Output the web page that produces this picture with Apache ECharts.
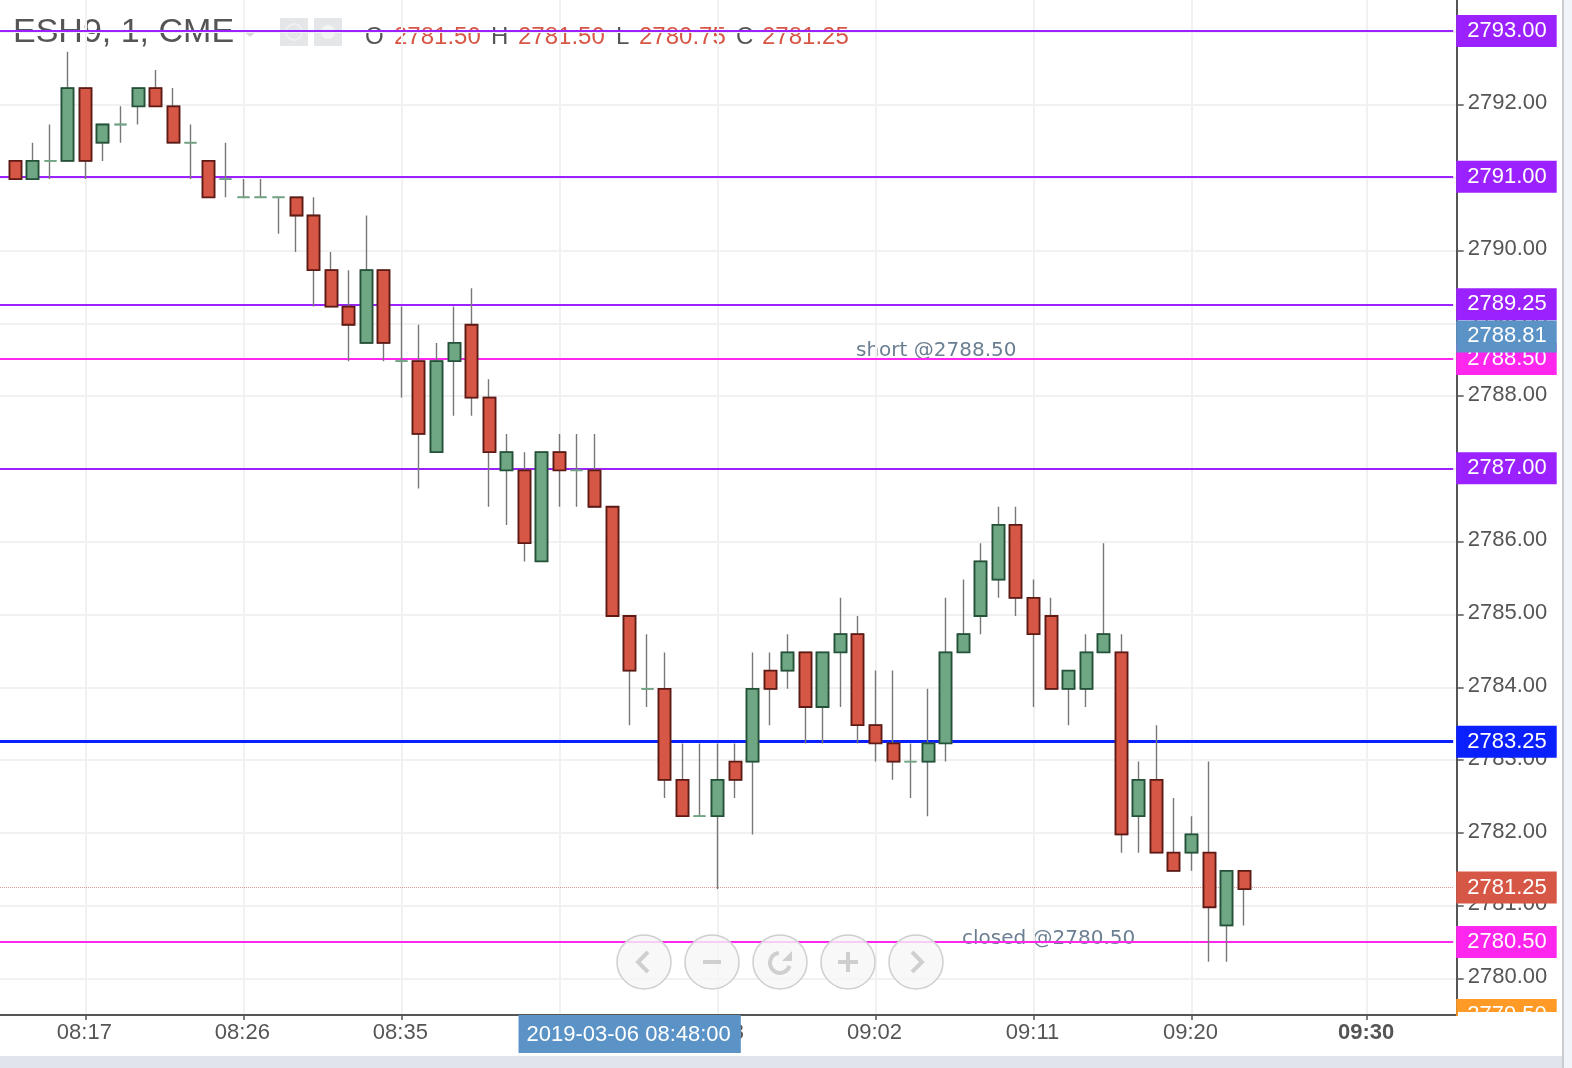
<!DOCTYPE html>
<html><head><meta charset="utf-8">
<style>html,body{margin:0;padding:0;background:#fff}#c{width:1572px;height:1068px}</style>
<script src="https://cdn.jsdelivr.net/npm/echarts@6/dist/echarts.min.js"></script>
</head><body><div id="c"></div>
<script>
// minute-of-day of the first bar: 08:13
const startMinute = 493;
const opens = [2791.25,2791,2791.25,2791.25,2792.25,2791.5,2791.75,2792,2792.25,2792,
 2791.5,2791.25,2791,2790.75,2790.75,2790.75,2790.75,2790.5,2789.75,2789.25,
 2788.75,2789.75,2788.5,2788.5,2787.25,2788.5,2789,2788,2787,2787,
 2785.75,2787.25,2787,2787,2786.5,2785,2784,2784,2782.75,2782.25,
 2782.25,2783,2783,2784.25,2784.25,2784.5,2783.75,2784.5,2784.75,2783.5,
 2783.25,2783,2783,2783.25,2784.5,2785,2785.5,2786.25,2785.25,2785,
 2784,2784,2784.5,2784.5,2782.25,2782.75,2781.75,2781.75,2781.75,2780.75,2781.5];
const closes = [2791,2791.25,2791.25,2792.25,2791.25,2791.75,2791.75,2792.25,2792,2791.5,
 2791.5,2790.75,2791,2790.75,2790.75,2790.75,2790.5,2789.75,2789.25,2789,
 2789.75,2788.75,2788.5,2787.5,2788.5,2788.75,2788,2787.25,2787.25,2786,
 2787.25,2787,2787,2786.5,2785,2784.25,2784,2782.75,2782.25,2782.25,
 2782.75,2782.75,2784,2784,2784.5,2783.75,2784.5,2784.75,2783.5,2783.25,
 2783,2783,2783.25,2784.5,2784.75,2785.75,2786.25,2785.25,2784.75,2784,
 2784.25,2784.5,2784.75,2782,2782.75,2781.75,2781.5,2782,2781,2781.5,2781.25];
const lows = [2791,2791,2791,2791.25,2791,2791.25,2791.5,2791.75,2792,2791.5,
 2791,2790.75,2790.75,2790.75,2790.75,2790.25,2790,2789.25,2789.25,2788.5,
 2788.75,2788.5,2788,2786.75,2787.25,2787.75,2787.75,2786.5,2786.25,2785.75,
 2785.75,2786.5,2786.5,2786.5,2785,2783.5,2783.75,2782.5,2782.25,2782.25,
 2781.25,2782.5,2782,2783.5,2784,2783.25,2783.25,2783.75,2783.25,2783,
 2782.75,2782.5,2782.25,2783,2784.5,2784.75,2785.25,2785,2783.75,2784,
 2783.5,2783.75,2784.5,2781.75,2781.75,2781.75,2781.5,2781.5,2780.25,2780.25,2780.75];
const highs = [2791.25,2791.5,2791.75,2792.75,2792.25,2791.75,2792,2792.25,2792.5,2792.25,
 2791.75,2791.25,2791.5,2791,2791,2790.75,2790.75,2790.75,2790,2789.75,
 2790.5,2789.75,2789.25,2789,2788.75,2789.25,2789.5,2788.25,2787.5,2787.25,
 2787.25,2787.5,2787.5,2787.5,2786.5,2785,2784.75,2784.5,2783.25,2783.25,
 2783.25,2783.25,2784.5,2784.5,2784.75,2784.5,2784.5,2785.25,2785,2784.25,
 2784.25,2783.25,2784,2785.25,2785.5,2786,2786.5,2786.5,2785.5,2785.25,
 2784.25,2784.75,2786,2784.75,2783,2783.5,2782.5,2782.25,2783,2781.5,2781.5];

const xTickMinutes = [497,506,515,524,533,542,551,560,570];
const boldTickMinute = 570;
const yTicks = [2780,2781,2782,2783,2784,2785,2786,2787,2788,2789,2790,2791,2792,2793];
const levelValues = [2793,2791,2789.25,2787,2783.25,2788.5,2780.5,2781.25,2779.5,2788.81];
const levelColors = ['#9b22ff','#9b22ff','#9b22ff','#9b22ff','#0b20ff','#ff26ee','#ff26ee','#d65745','#ff9a26','#5b93c7'];
const levelLines = ['solid','solid','solid','solid','solid','solid','solid','dotted','none','none'];
const levelWidths = [2,2,2,2,3,2,2,1,0,0];
const drawOrder = [8,5,0,1,2,3,4,6,7,9];
const crosshairMinute = 528;
const crosshairText = '2019-03-06 08:48:00';

const times = opens.map((_, i) => startMinute + i);
const wicks = times.map((t, i) => [t, opens[i], closes[i], lows[i], highs[i]]);
const bodies = times.map((t, i) => [t, opens[i], closes[i], Math.min(opens[i], closes[i]), Math.max(opens[i], closes[i])]);
const pad = n => String(n).padStart(2, '0');
const fmtTime = m => pad(Math.floor(m / 60)) + ':' + pad(m % 60);
const FONT = '"Liberation Sans", Arial, sans-serif';
const GREEN = '#6fa684', GREEN_D = '#235239', RED = '#d65745', RED_D = '#5e1a14', WICK = '#777777';
const X_MIN = 492.14, X_MAX = 575.1, LINE_END = 574.9;
const Y_MIN = 2779.5, Y_MAX = 2793.44;
const LEVEL_MIN = 2779.5, LEVEL_MAX = 2793.425;
const CANDLE_SHIFT = 0.02;

const legendTexts = [
  {t:'O',x:365,c:'#555'},{t:'2781.50',x:394,c:RED},{t:'H',x:491,c:'#555'},{t:'2781.50',x:518,c:RED},
  {t:'L',x:616,c:'#555'},{t:'2780.75',x:639,c:RED},{t:'C',x:736,c:'#555'},{t:'2781.25',x:762,c:RED}
];
const text = (t, x, y, size, fill, z, font) => ({type:'text', z, silent:true,
  style:{text:t, x, y, font: size + 'px ' + (font || FONT), fill, textVerticalAlign:'middle', textBaseline:'middle'}});
const btnY = 962, btnXs = [644,712,780,848,916];
const btnLine = {stroke:'#cfcfcf', lineWidth:4, fill:null};
const graphics = [
  text('ESH9, 1, CME', 13, 33, 34, '#555', 0),
  {type:'polygon', z:0, silent:true, shape:{points:[[242,30],[258,30],[250,37]]}, style:{fill:'#d8d8d8'}},
  {type:'rect', z:0, silent:true, shape:{x:280,y:18,width:28,height:28}, style:{fill:'#e5e6e8'}},
  {type:'rect', z:0, silent:true, shape:{x:314,y:18,width:28,height:28}, style:{fill:'#e5e6e8'}},
  {type:'circle', z:0, silent:true, shape:{cx:294,cy:32,r:8}, style:{fill:null,stroke:'#f0f0f1',lineWidth:2}},
  {type:'circle', z:0, silent:true, shape:{cx:328,cy:32,r:7}, style:{fill:'#f4f4f5'}},
  ...legendTexts.map(o => text(o.t, o.x, 37, 24, o.c, 0)),
  text('short @2788.50', 856, 351, 20, '#6b7f92', 0, '"DejaVu Sans"'),
  text('closed @2780.50', 962, 939, 20, '#6b7f92', 0, '"DejaVu Sans"'),
  // zoom buttons
  ...btnXs.map(cx => ({type:'circle', z:10, silent:true, shape:{cx, cy:btnY, r:27}, style:{fill:'rgba(246,246,246,0.8)', stroke:'#cfcfcf', lineWidth:1.5}})),
  {type:'polyline', z:11, silent:true, shape:{points:[[648,952],[638,962],[648,972]]}, style:btnLine},
  {type:'line', z:11, silent:true, shape:{x1:703,y1:962,x2:721,y2:962}, style:btnLine},
  {type:'arc', z:11, silent:true, shape:{cx:780,cy:963,r:10,startAngle:0.3,endAngle:4.6}, style:btnLine},
  {type:'polygon', z:11, silent:true, shape:{points:[[792,951],[792,961],[782,961]]}, style:{fill:'#cfcfcf'}},
  {type:'line', z:11, silent:true, shape:{x1:838,y1:962,x2:858,y2:962}, style:btnLine},
  {type:'line', z:11, silent:true, shape:{x1:848,y1:952,x2:848,y2:972}, style:btnLine},
  {type:'polyline', z:11, silent:true, shape:{points:[[912,952],[922,962],[912,972]]}, style:btnLine},
  // clip the partly hidden bottom price tag, page edges
  {type:'rect', z:20, silent:true, shape:{x:1458,y:1012,width:104,height:44}, style:{fill:'#fff'}},
  {type:'rect', z:20, silent:true, shape:{x:1450,y:1016,width:112,height:40}, style:{fill:'#fff'}},
  {type:'rect', z:21, silent:true, shape:{x:0,y:1056,width:1562,height:12}, style:{fill:'#e1e4ea'}},
  {type:'rect', z:21, silent:true, shape:{x:1562,y:0,width:2,height:1068}, style:{fill:'#c9cdd2'}},
  {type:'rect', z:21, silent:true, shape:{x:1564,y:0,width:8,height:1068}, style:{fill:'#f1f4f8'}}
];

const lineColor = i => levelLines[i] === 'none' ? 'rgba(0,0,0,0)' : (levelLines[i] === 'dotted' ? 'rgba(214,87,69,0.6)' : levelColors[i]);
const markData = drawOrder.map(i => [
  {xAxis:X_MIN, yAxis:levelValues[i],
   lineStyle:{color:lineColor(i), width:levelWidths[i], type:levelLines[i]==='none'?'solid':levelLines[i], opacity:1},
   label:{show:true, position:'end', distance:3, opacity:1, formatter:levelValues[i].toFixed(2), color:'#fff', fontFamily:FONT, fontSize:22,
     backgroundColor:levelColors[i], padding:[3,10,5,11], lineHeight:24}},
  {xAxis:LINE_END, yAxis:levelValues[i]}
]);

const chart = echarts.init(document.getElementById('c'), null, {renderer:'canvas'});
chart.setOption({
  animation:false,
  backgroundColor:'#fff',
  grid:{left:0, top:0, width:1456.7, height:1015, containLabel:false},
  xAxis:{type:'value', min:X_MIN, max:X_MAX, position:'bottom',
    axisLine:{show:true, onZero:false, lineStyle:{color:'#555', width:2}},
    axisTick:{show:true, length:5, customValues:xTickMinutes, lineStyle:{color:'#555', width:1.5}},
    splitLine:{show:true, lineStyle:{color:'#f1f1f1', width:2}},
    axisLabel:{customValues:xTickMinutes, margin:7, color:'#555', fontFamily:FONT, fontSize:22, padding:[0,2,0,0], showMinLabel:true, showMaxLabel:true,
      formatter:v => v === boldTickMinute ? '{b|' + fmtTime(v) + '}' : fmtTime(v),
      rich:{b:{fontWeight:'bold', color:'#555', fontFamily:FONT, fontSize:22}}},
    axisPointer:{show:true, type:'line', value:crosshairMinute, status:'show', lineStyle:{opacity:0}, triggerTooltip:false,
      label:{show:true, margin:0, formatter:crosshairText, color:'#fff', fontFamily:FONT, fontSize:22, backgroundColor:'#5b93c7', borderRadius:0, padding:[9,10,7,8], shadowBlur:0}}
  },
  yAxis:[
    {type:'value', min:Y_MIN, max:Y_MAX, position:'right',
      axisLine:{show:true, onZero:false, lineStyle:{color:'#555', width:2}},
      axisTick:{show:true, length:7, customValues:yTicks, lineStyle:{color:'#555', width:1.5}},
      splitLine:{show:true, lineStyle:{color:'#f1f1f1', width:2}},
      axisLabel:{customValues:yTicks, margin:11, color:'#555', fontFamily:FONT, fontSize:22,
        formatter:v => '{a|' + v.toFixed(2) + '}',
        rich:{a:{color:'#555', fontFamily:FONT, fontSize:22, padding:[0,0,3,0]}}}
    },
    {type:'value', show:false, position:'right', min:Y_MIN + CANDLE_SHIFT, max:Y_MAX + CANDLE_SHIFT, splitLine:{show:false}},
    {type:'value', show:false, position:'right', min:LEVEL_MIN, max:LEVEL_MAX, splitLine:{show:false}}
  ],
  graphic:graphics,
  series:[
    {type:'line', yAxisIndex:2, z:1, data:[], silent:true, symbol:'none',
     markLine:{z:1, silent:true, symbol:'none', animation:false, precision:4, data:markData}},
    {type:'candlestick', yAxisIndex:1, z:2, barWidth:12.5, silent:true, data:wicks,
     itemStyle:{color:WICK, color0:WICK, borderColor:WICK, borderColor0:WICK, borderColorDoji:WICK, borderWidth:1.4}},
    {type:'candlestick', yAxisIndex:1, z:3, barWidth:12.5, silent:true, data:bodies,
     itemStyle:{color:GREEN, color0:RED, borderColor:GREEN_D, borderColor0:RED_D, borderColorDoji:GREEN, borderWidth:1.8}}
  ]
});
</script></body></html>
